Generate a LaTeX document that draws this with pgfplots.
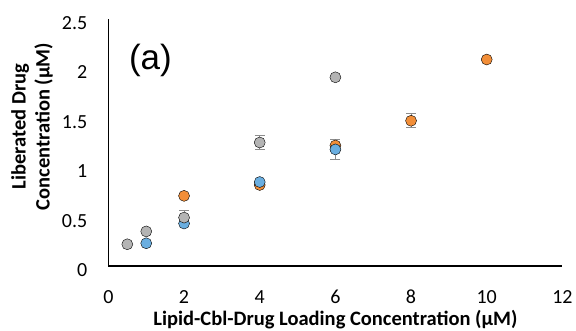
\documentclass[border=0pt]{standalone}
\usepackage{pgfplots}
\pgfplotsset{compat=1.18}
\usepackage{fontspec}
\setmainfont{Carlito}
\newfontfamily\arialfont{Liberation Sans}
\definecolor{xlorange}{RGB}{242,142,56}
\definecolor{xlblue}{RGB}{106,174,224}
\definecolor{xlgray}{RGB}{180,180,180}
\definecolor{errgray}{RGB}{140,140,140}
\begin{document}
\begin{tikzpicture}
\begin{axis}[
  scale only axis,
  width=454pt, height=247pt,
  at={(0,0)}, anchor=south west,
  xmin=0, xmax=12, ymin=0, ymax=2.5,
  xtick={0,2,...,12}, ytick={0,0.5,...,2.5},
  axis x line*=bottom, axis y line*=left,
  axis line style={line width=1.6pt, black, -},
  major tick length=0pt,
  /pgf/number format/assume math mode=true,
  tick label style={font=\fontsize{20}{24}\selectfont, inner sep=0pt},
  yticklabel style={anchor=east, xshift=-21pt, yshift=-4pt,
    /pgf/number format/.cd, fixed, precision=1},
  xticklabel style={anchor=north, yshift=-24pt},
  xlabel={Lipid-Cbl-Drug Loading Concentration (μM)},
  ylabel={Liberated Drug\\Concentration (μM)},
  label style={font=\bfseries\fontsize{20.5}{24}\selectfont},
  xlabel style={at={(axis description cs:0.5,-0.2413)}, anchor=base},
  ylabel style={at={(axis description cs:-0.168,0.565)}, anchor=center, align=center},
  clip=false,
  error bars/error bar style={line width=1pt, errgray},
  error bars/error mark options={rotate=90, mark size=5pt, line width=1pt, errgray},
]
% orange series
\addplot[only marks, mark=*, mark size=5.5pt, mark options={draw=none, fill=xlorange},
  error bars/.cd, y dir=both, y explicit]
  coordinates {(2,0.71) +- (0,0) (4,0.82) +- (0,0) (6,1.22) +- (0,0.06) (8,1.47) +- (0,0.071) (10,2.09) +- (0,0)};
% blue series
\addplot[only marks, mark=*, mark size=5.5pt, mark options={draw=none, fill=xlblue},
  error bars/.cd, y dir=both, y explicit]
  coordinates {(1,0.23) +- (0,0) (2,0.43) +- (0,0) (4,0.85) +- (0,0) (6,1.18) +- (0,0.1)};
% gray series
\addplot[only marks, mark=*, mark size=5.5pt, mark options={draw=none, fill=xlgray},
  error bars/.cd, y dir=both, y explicit]
  coordinates {(0.5,0.22) +- (0,0) (1,0.35) +- (0,0) (2,0.49) +- (0,0.07) (4,1.25) +- (0,0.07) (6,1.91) +- (0,0)};
\node[font=\arialfont\fontsize{35}{40}\selectfont, anchor=center] at (axis cs:1.11,2.085) {(a)};
\end{axis}
\pgfresetboundingbox
\path (-108.4pt,-64pt) rectangle (467.6pt,266pt);
\end{tikzpicture}
\end{document}
